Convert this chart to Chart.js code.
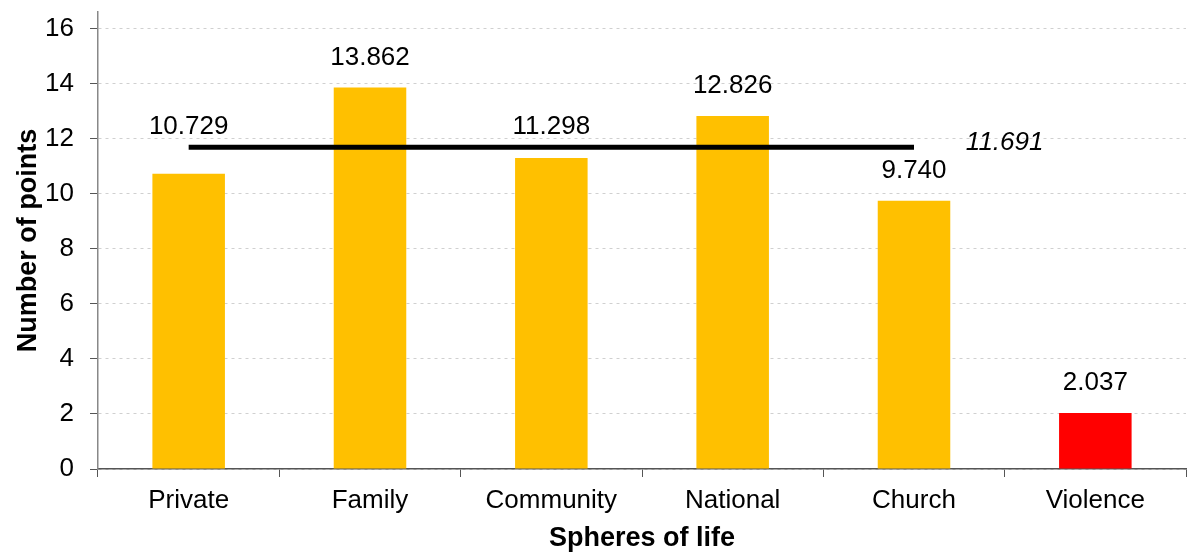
<!DOCTYPE html>
<html>
<head>
<meta charset="utf-8">
<script src="https://cdn.jsdelivr.net/npm/chart.js@4/dist/chart.umd.min.js"></script>
<style>
  html, body { margin: 0; padding: 0; background: #fff; }
  #wrap { width: 1187px; height: 557px; }
</style>
</head>
<body>
<div id="wrap"><canvas id="graficoEsferas" width="1187" height="557"></canvas></div>
<script>
// Dados do grafico
const esferas = ["Private", "Family", "Community", "National", "Church", "Violence"];
const pontos = [10.729, 13.862, 11.298, 12.826, 9.740, 2.037];
const coresBarras = ["#FFC000", "#FFC000", "#FFC000", "#FFC000", "#FFC000", "#FF0000"];
const media = 11.691;
const mediaAte = ["Private", "Family", "Community", "National", "Church"];
const ticksY = [0, 2, 4, 6, 8, 10, 12, 14, 16];

const fonte = '"Liberation Sans", Arial, sans-serif';

// linha da media: so nas esferas que entram na media
const dadosMedia = esferas.map(e => mediaAte.includes(e) ? media : null);

// rotulos de valor acima das barras e rotulo da media
const rotulos = {
    id: 'rotulos',
    afterDatasetsDraw(chart) {
        const ctx = chart.ctx;
        const x = chart.scales.x, y = chart.scales.y;
        const yMedia = y.getPixelForValue(media);
        ctx.save();
        ctx.fillStyle = '#000';
        ctx.textAlign = 'center';
        ctx.textBaseline = 'middle';
        ctx.font = '26px ' + fonte;
        const meta = chart.getDatasetMeta(1);
        meta.data.forEach((barra, i) => {
            let py = barra.y - 30;
            if (Math.abs(py - yMedia) < 22) py = yMedia - 20;
            ctx.fillText(pontos[i].toFixed(3), barra.x, py);
        });
        ctx.font = 'italic 26px ' + fonte;
        ctx.fillText(media.toFixed(3), x.getPixelForValue(4.5), yMedia - 4);
        ctx.restore();
    }
};

new Chart(document.getElementById('graficoEsferas'), {
    type: 'bar',
    data: {
        labels: esferas,
        datasets: [{
            type: 'line',
            data: dadosMedia,
            borderColor: '#000',
            borderWidth: 5,
            borderCapStyle: 'butt',
            pointRadius: 0,
            fill: false,
            order: 0
        }, {
            type: 'bar',
            data: pontos,
            backgroundColor: coresBarras,
            categoryPercentage: 1,
            barPercentage: 0.4,
            order: 1
        }]
    },
    options: {
        responsive: false,
        animation: false,
        layout: { padding: { top: 12, right: 1, left: 0, bottom: 0 } },
        plugins: { legend: { display: false }, tooltip: { enabled: false } },
        scales: {
            x: {
                afterFit(s) { s.height = 88; s.paddingLeft = 0; s.paddingRight = 0; },
                grid: { drawOnChartArea: false, drawTicks: true, tickLength: 8, tickColor: '#555', offset: true },
                border: { color: '#555', width: 1.5 },
                ticks: { color: '#000', padding: 8, font: { family: fonte, size: 26 } },
                title: {
                    display: true, text: 'Spheres of life', color: '#000',
                    font: { family: fonte, size: 27, weight: 'bold' },
                    padding: { top: 0, bottom: 2 }
                }
            },
            y: {
                min: 0,
                max: 16.6,
                afterFit(s) { s.width = 98; s.paddingTop = 0; s.paddingBottom = 0; },
                afterBuildTicks(s) { s.ticks = ticksY.map(v => ({ value: v })); },
                grid: { color: '#d0d0d0', lineWidth: 1, drawTicks: true, tickLength: 8, tickColor: '#555' },
                border: { color: '#888', width: 1.5, dash: [3, 4] },
                ticks: { color: '#000', padding: 16, font: { family: fonte, size: 26 } },
                title: {
                    display: true, text: 'Number of points', color: '#000',
                    font: { family: fonte, size: 27, weight: 'bold' },
                    padding: { top: 12, bottom: 0 }
                }
            }
        }
    },
    plugins: [rotulos]
});
</script>
</body>
</html>
